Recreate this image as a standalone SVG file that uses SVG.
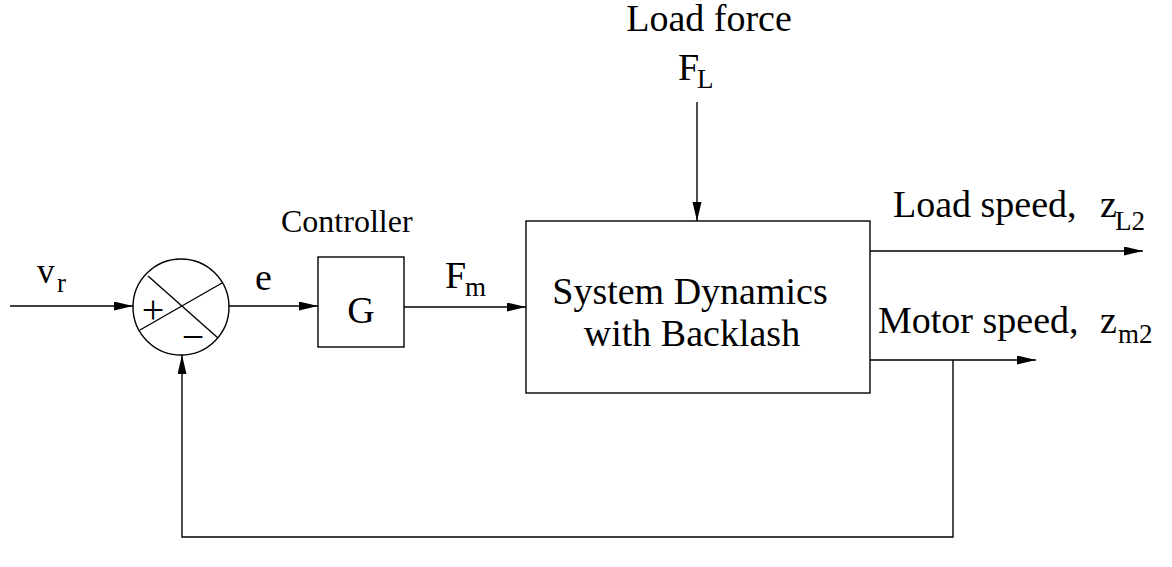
<svg xmlns="http://www.w3.org/2000/svg" width="1172" height="567" viewBox="0 0 1172 567">
<style>
.ln{fill:none;stroke:#000;stroke-width:1.4}
.box{fill:#fff;stroke:#000;stroke-width:1.4}
text{font-family:'Liberation Serif','Times New Roman',serif;fill:#000}
.big{font-size:38px}
.sub{font-size:27px}
</style>
<defs>
<marker id="ah" markerUnits="userSpaceOnUse" markerWidth="20" markerHeight="10" refX="19" refY="4.5" orient="auto">
<path d="M0,0 L19,4.5 L0,9 z" fill="#000"/>
</marker>
</defs>
<rect width="1172" height="567" fill="#fff"/>
<g id="connectors">
<line class="ln" x1="10" y1="306" x2="133" y2="306" marker-end="url(#ah)"/>
<line class="ln" x1="229" y1="306" x2="318" y2="306" marker-end="url(#ah)"/>
<line class="ln" x1="404" y1="307" x2="526" y2="307" marker-end="url(#ah)"/>
<line class="ln" x1="697" y1="102" x2="697" y2="221" marker-end="url(#ah)"/>
<line class="ln" x1="870" y1="251" x2="1143" y2="251" marker-end="url(#ah)"/>
<line class="ln" x1="870" y1="360" x2="1036" y2="360" marker-end="url(#ah)"/>
<polyline class="ln" points="953,360 953,537 182,537 182,355" marker-end="url(#ah)"/>
</g>
<g id="sum">
<circle class="box" cx="181" cy="307" r="48"/>
<line class="ln" x1="148" y1="276" x2="218" y2="338"/>
<line class="ln" x1="140" y1="330" x2="222" y2="283"/>
<text x="153" y="323" font-size="40" text-anchor="middle">+</text>
<text x="193" y="350" font-size="40" text-anchor="middle">−</text>
</g>
<g id="controller">
<rect class="box" x="318" y="257" width="86" height="90"/>
<text class="big" x="361" y="323" text-anchor="middle">G</text>
<text x="281" y="232" font-size="32">Controller</text>
</g>
<g id="system">
<rect class="box" x="526" y="221" width="344" height="172"/>
<text class="big" x="690" y="304" text-anchor="middle">System Dynamics</text>
<text class="big" x="692" y="346" text-anchor="middle">with Backlash</text>
</g>
<g id="labels">
<text x="37" y="283" font-size="35">v</text>
<text class="sub" x="57" y="292">r</text>
<text class="big" x="255" y="290">e</text>
<text class="big" x="445" y="288">F</text>
<text class="sub" x="465" y="296">m</text>
<text class="big" x="709" y="31" text-anchor="middle">Load force</text>
<text class="big" x="678" y="80">F</text>
<text class="sub" x="697" y="88">L</text>
<text class="big" x="893" y="217">Load speed,</text>
<text class="big" x="1100" y="217">z</text>
<text class="sub" x="1115" y="230">L2</text>
<text class="big" x="878" y="333">Motor speed,</text>
<text class="big" x="1100" y="333">z</text>
<text class="sub" x="1118" y="343">m2</text>
</g>
</svg>
